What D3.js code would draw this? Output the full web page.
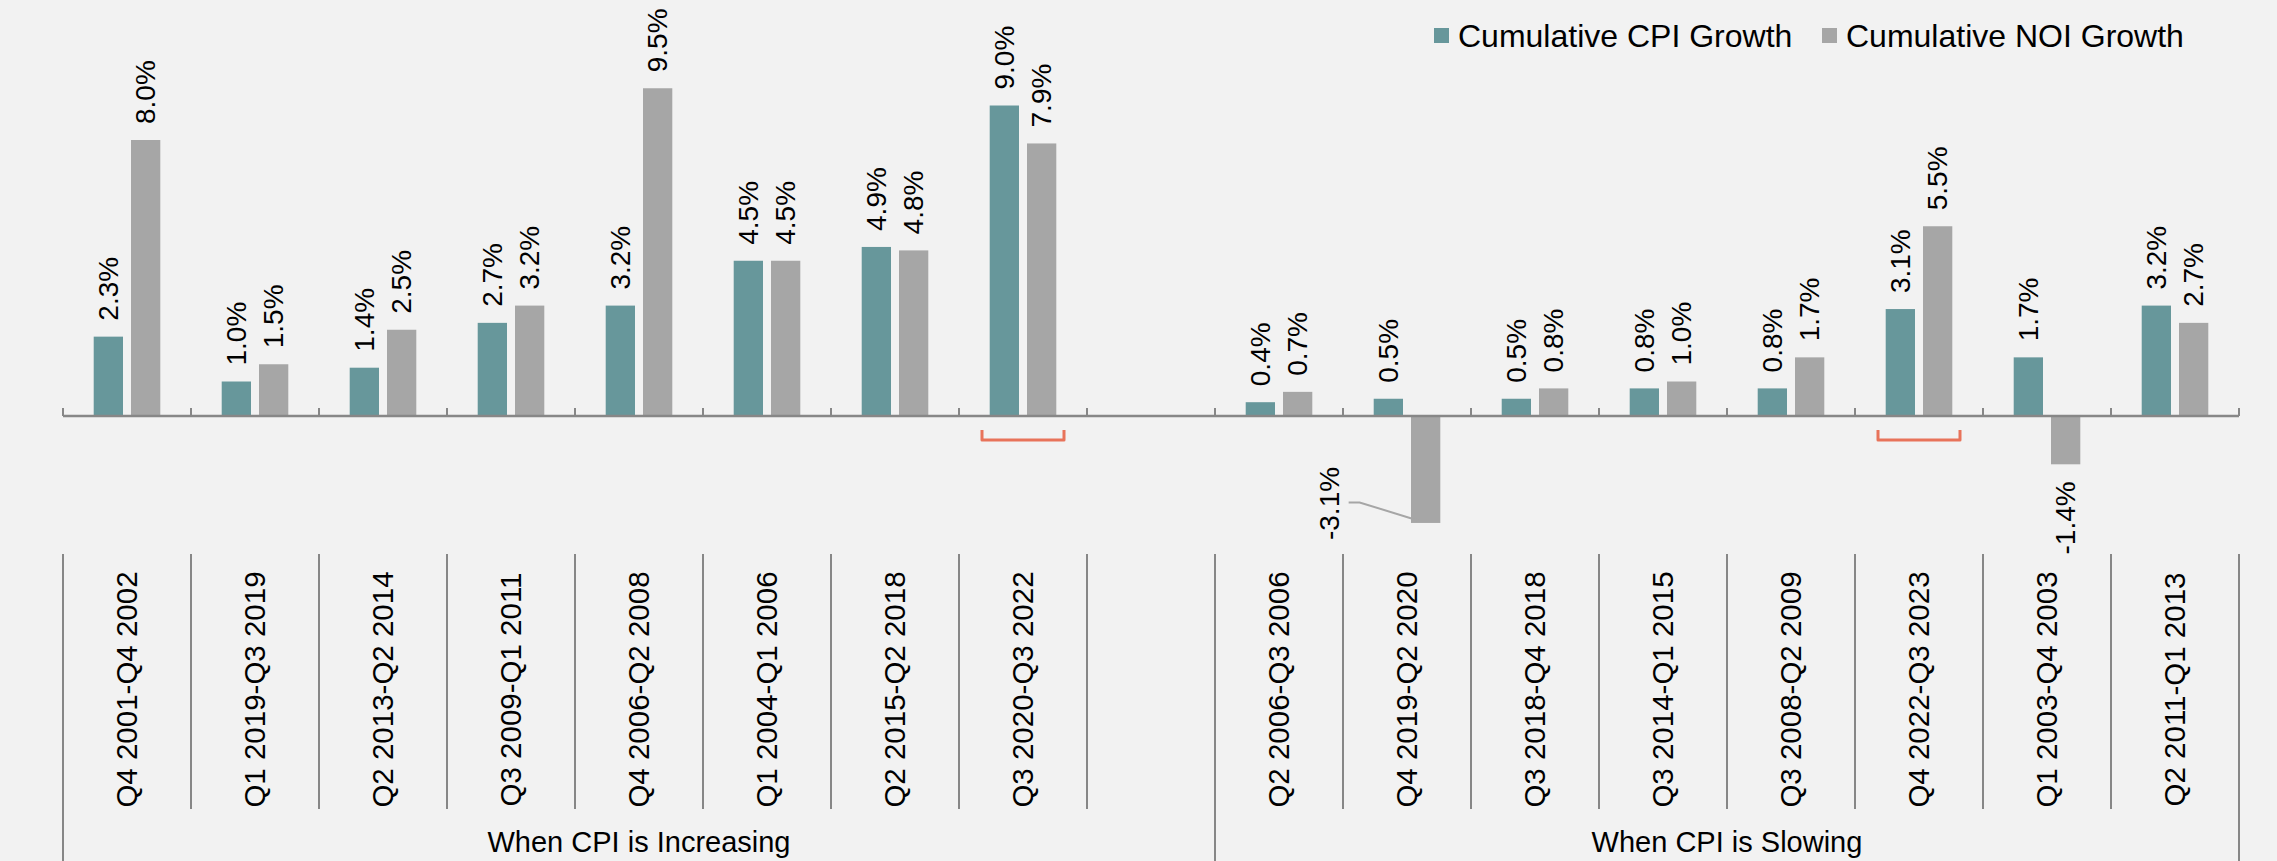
<!DOCTYPE html>
<html>
<head>
<meta charset="utf-8">
<script src="https://cdn.jsdelivr.net/npm/d3@7"></script>
<style>
  html, body { margin: 0; padding: 0; background: #F2F2F2; }
  svg { display: block; }
  text { font-family: "Liberation Sans", Arial, sans-serif; fill: #000; }
</style>
</head>
<body>
<svg id="chart" width="2277" height="861"></svg>
<script>
// ---- data ----
const categories = [
  "Q4 2001-Q4 2002", "Q1 2019-Q3 2019", "Q2 2013-Q2 2014", "Q3 2009-Q1 2011",
  "Q4 2006-Q2 2008", "Q1 2004-Q1 2006", "Q2 2015-Q2 2018", "Q3 2020-Q3 2022",
  "",
  "Q2 2006-Q3 2006", "Q4 2019-Q2 2020", "Q3 2018-Q4 2018", "Q3 2014-Q1 2015",
  "Q3 2008-Q2 2009", "Q4 2022-Q3 2023", "Q1 2003-Q4 2003", "Q2 2011-Q1 2013"
];
const cpiGrowth = [2.3, 1.0, 1.4, 2.7, 3.2, 4.5, 4.9, 9.0, null, 0.4, 0.5, 0.5, 0.8, 0.8, 3.1, 1.7, 3.2];
const noiGrowth = [8.0, 1.5, 2.5, 3.2, 9.5, 4.5, 4.8, 7.9, null, 0.7, -3.1, 0.8, 1.0, 1.7, 5.5, -1.4, 2.7];
const seriesNames = ["Cumulative CPI Growth", "Cumulative NOI Growth"];
const groupNames = ["When CPI is Increasing", "When CPI is Slowing"];
const groupSpans = [[0, 8], [9, 16]];          // first and last category index of each group
const highlighted = [7, 14];                    // categories with the bracket marker
const leaderLabelCategory = 10;                 // NOI label moved aside with a leader line

// ---- layout ----
const colors = { cpi: "#67979B", noi: "#A6A6A6", axis: "#878787", bracket: "#E8735A" };
const svg = d3.select("#chart");

const x0 = d3.scaleBand().domain(d3.range(categories.length)).range([63, 2239]).padding(0);
const x1 = d3.scaleBand().domain(["cpi", "noi"]).range([30.7, 97.3]).paddingInner(0.2145);
const y = d3.scaleLinear().domain([0, 10]).range([416, 71]);

const rows = categories.map((c, i) => ({ i, cat: c, cpi: cpiGrowth[i], noi: noiGrowth[i] }));

// bars
const g = svg.append("g");
rows.forEach(r => {
  ["cpi", "noi"].forEach(k => {
    const v = r[k];
    if (v === null) return;
    const xx = x0(r.i) + x1(k);
    g.append("rect")
      .attr("x", xx)
      .attr("y", Math.min(y(v), y(0)))
      .attr("width", x1.bandwidth())
      .attr("height", Math.abs(y(v) - y(0)))
      .attr("fill", colors[k]);
  });
});

// axis line with upward ticks
const axisG = svg.append("g").attr("transform", `translate(0,${y(0)})`);
const boundaries = d3.range(categories.length + 1).map(i => i === categories.length ? x0.range()[1] : x0(i));
axisG.append("line").attr("x1", x0.range()[0]).attr("x2", x0.range()[1])
  .attr("y1", 0).attr("y2", 0).attr("stroke", colors.axis).attr("stroke-width", 2.5);
axisG.selectAll("line.tick").data(boundaries).enter().append("line")
  .attr("class", "tick").attr("x1", d => d).attr("x2", d => d)
  .attr("y1", 0).attr("y2", -8).attr("stroke", colors.axis).attr("stroke-width", 2);

// value labels
const locale = d3.formatLocale({ decimal: ".", thousands: ",", grouping: [3], currency: ["$", ""], minus: "-" });
const fmt = v => locale.format(".1f")(v) + "%";
rows.forEach(r => {
  ["cpi", "noi"].forEach(k => {
    const v = r[k];
    if (v === null) return;
    const cx = x0(r.i) + x1(k) + x1.bandwidth() / 2;
    if (k === "noi" && r.i === leaderLabelCategory) {
      const yb = y(v);
      const lx = cx - 96, ly = yb - 19.5;
      g.append("polyline")
        .attr("points", [[lx + 19, ly - 1], [lx + 30, ly - 1], [cx - 6, yb - 2]].map(p => p.join(",")).join(" "))
        .attr("fill", "none").attr("stroke", "#A6A6A6").attr("stroke-width", 2);
      g.append("text")
        .attr("transform", `translate(${lx},${ly}) rotate(-90)`)
        .attr("text-anchor", "middle").attr("dy", "0.35em")
        .attr("font-size", 28).text(fmt(v));
      return;
    }
    const ty = v >= 0 ? y(v) - 16 : y(v) + 17;
    g.append("text")
      .attr("transform", `translate(${cx},${ty}) rotate(-90)`)
      .attr("text-anchor", v >= 0 ? "start" : "end").attr("dy", "0.35em")
      .attr("font-size", 28).text(fmt(v));
  });
});

// brackets
highlighted.forEach(i => {
  const c = x0(i) + x0.bandwidth() / 2;
  svg.append("path")
    .attr("d", `M${c - 41},430 V440 H${c + 41} V430`)
    .attr("fill", "none").attr("stroke", colors.bracket).attr("stroke-width", 3)
    .attr("stroke-linejoin", "round");
});

// category label area
const labTop = 554, labBottom = 809, groupBottom = 861;
const groupEdges = new Set();
groupSpans.forEach(([a, b]) => { groupEdges.add(a); groupEdges.add(b + 1); });
boundaries.forEach((bx, i) => {
  svg.append("line").attr("x1", bx).attr("x2", bx)
    .attr("y1", labTop).attr("y2", groupEdges.has(i) ? groupBottom : labBottom)
    .attr("stroke", colors.axis).attr("stroke-width", 2);
});
rows.forEach(r => {
  if (!r.cat) return;
  const cx = x0(r.i) + x0.bandwidth() / 2;
  svg.append("text")
    .attr("transform", `translate(${cx},${(573 + 806) / 2}) rotate(-90)`)
    .attr("text-anchor", "middle").attr("dy", "0.35em")
    .attr("font-size", 29.5).text(r.cat);
});
groupSpans.forEach(([a, b], gi) => {
  const cx = (x0(a) + x0(b) + x0.bandwidth()) / 2;
  svg.append("text").attr("x", cx).attr("y", 852)
    .attr("text-anchor", "middle").attr("font-size", 29).text(groupNames[gi]);
});

// legend
const legendX = [1434, 1822];
seriesNames.forEach((s, i) => {
  const lg = svg.append("g").attr("transform", `translate(${legendX[i]},0)`);
  lg.append("rect").attr("x", 0).attr("y", 28).attr("width", 15).attr("height", 15)
    .attr("fill", i === 0 ? colors.cpi : colors.noi);
  lg.append("text").attr("x", 24).attr("y", 47).attr("font-size", 32).text(s);
});
</script>
</body>
</html>
